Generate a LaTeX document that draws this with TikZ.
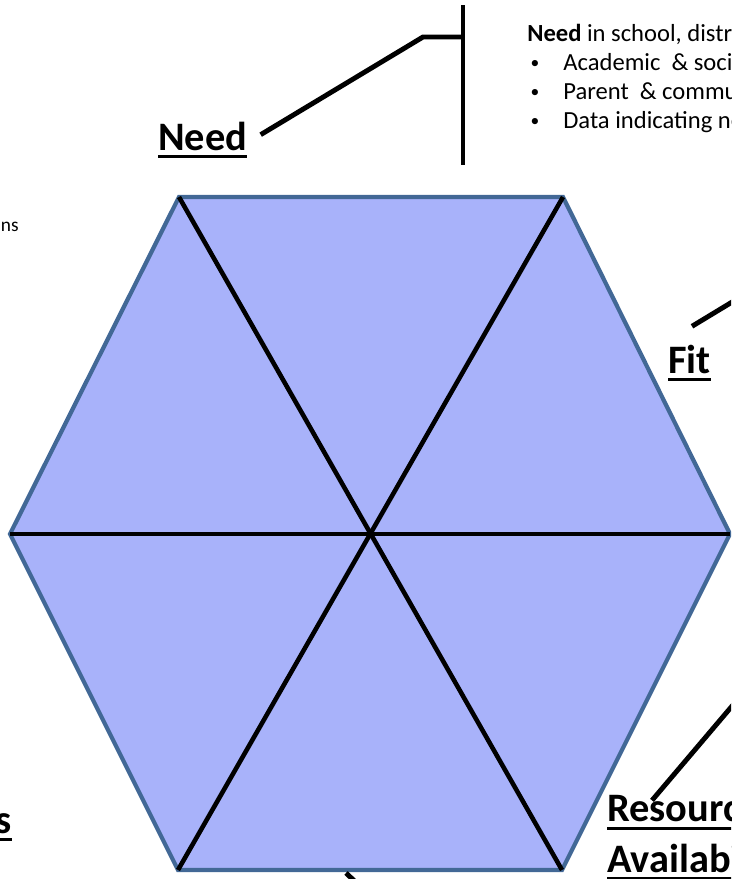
\documentclass[tikz,border=0pt]{standalone}
\usepackage{fontspec}
\setmainfont{Carlito}
\usepackage{tikz}
\usetikzlibrary{positioning, calc}
\usepackage{xcolor}

\definecolor{hexfill}{RGB}{168,178,250}
\definecolor{hexedge}{RGB}{66,104,150}

% thick underline for the hexagon labels
\newcommand{\hexul}[1]{\setbox0\hbox{#1}\rlap{\rule[-0.19em]{\wd0}{0.075em}}\box0}

\begin{document}
\begin{tikzpicture}[
    x=0.02cm, y=-0.02cm,
    hexside/.style={draw=hexedge, line width=2.4pt, fill=hexfill, line join=miter},
    spoke/.style={black, line width=2.6pt},
    lead/.style={black, line width=2.8pt},
    lbl/.style={inner sep=0pt, font=\fontsize{23}{28}\selectfont\bfseries, align=left},
    info/.style={inner sep=0pt, font=\fontsize{14}{16.5}\selectfont, align=left},
    small/.style={inner sep=0pt, font=\fontsize{11}{13}\selectfont},
  ]
  \useasboundingbox (0,0) rectangle (731,879);
  \clip (0,0) rectangle (731,879);

  % Hexagon
  \coordinate (tl) at (179,197);
  \coordinate (tr) at (563,197);
  \coordinate (r)  at (730,534);
  \coordinate (br) at (562,870);
  \coordinate (bl) at (178,870);
  \coordinate (l)  at (10,534);
  \coordinate (c)  at (371,534);
  \draw[hexside] (tl) -- (tr) -- (r) -- (br) -- (bl) -- (l) -- cycle;
  \draw[spoke] (tl) -- (br);
  \draw[spoke] (tr) -- (bl);
  \draw[spoke] (l) -- (r);

  % Need
  \node[lbl, anchor=base west] (need) at (158,150) {\hexul{Need}};
  \coordinate (needbend) at (423,37);
  \coordinate (bartop) at (463,5);
  \coordinate (barbot) at (463,165);
  \draw[lead] (bartop) -- (barbot);
  \draw[lead] ($(need.east)+(13,-5)$) -- (needbend) -- (bartop |- needbend);

  \node[info, anchor=base west] (needtxt) at (527,41)
       {\textbf{Need} in school, district, state};
  \foreach \txt [count=\i] in {Academic \ \& social-emotional needs,
                              Parent \ \& community perceptions of need,
                              Data indicating need} {
    \node[info, anchor=base, font=\fontsize{10}{12}\selectfont] (dot\i)
         at (535,39+\i*29) {\textbullet};
    \node[info, anchor=base west] (item\i) at (563,41+\i*29) {\txt};
  }

  % Fit
  \node[lbl, anchor=base west] (fit) at (668,373) {\hexul{Fit}};
  \coordinate (fitend) at (790,267);
  \draw[lead] ($(fit.north west)+(24,-18)$) -- (fitend);

  % Resource Availability
  \node[lbl, anchor=base west] (res) at (607,872)
       {\hexul{Resource}\\[0.5pt]\hexul{Availability}};
  \coordinate (resend) at (800,626);
  \draw[lead] ($(res.north west)+(45,5)$) -- (resend);

  % Readiness (left, cut off)
  \node[lbl, anchor=base east] (ready) at (12,833) {\hexul{Readiness}};
  \node[small, anchor=base east] (evtxt) at (19,231) {populations};

  % Capacity (bottom, cut off)
  \coordinate (capend) at (380,905);
  \draw[lead] (346,873) -- (capend);
\end{tikzpicture}
\end{document}
